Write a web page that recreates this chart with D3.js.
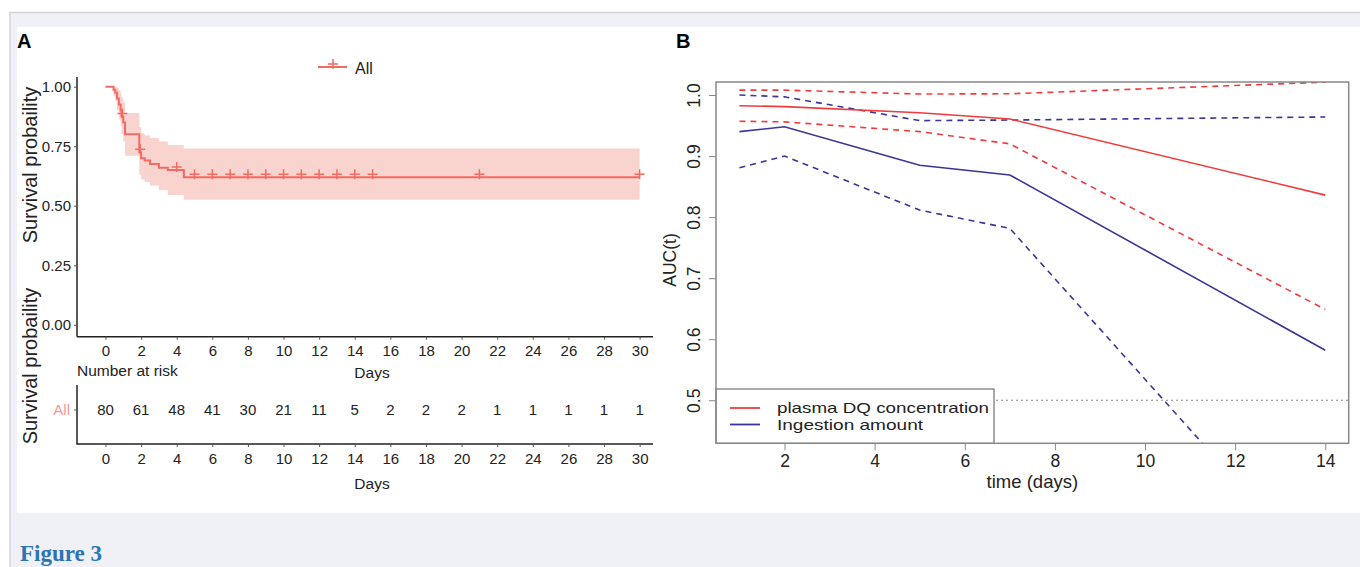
<!DOCTYPE html>
<html>
<head>
<meta charset="utf-8">
<script src="https://cdn.jsdelivr.net/npm/d3@7"></script>
<style>
  body { margin: 0; background: #fff; }
  text { font-family: "Liberation Sans", Arial, sans-serif; }
</style>
</head>
<body>
<div id="fig"></div>
<script>
// ---- panel A : Kaplan-Meier ----
const kmTime  = [0, 0.45, 0.55, 0.65, 0.75, 0.85, 0.9, 1.0, 1.1, 1.9, 2.0, 2.2, 2.5, 3.0, 3.5, 4.4];
const kmSurv  = [1, 0.9875, 0.975, 0.95, 0.925, 0.90, 0.875, 0.85, 0.80, 0.725, 0.70, 0.69, 0.675, 0.66, 0.65, 0.62];
const kmUpper = [1, 1, 1, 0.995, 0.985, 0.97, 0.955, 0.935, 0.89, 0.83, 0.805, 0.795, 0.785, 0.77, 0.755, 0.74];
const kmLower = [1, 0.96, 0.94, 0.90, 0.865, 0.835, 0.80, 0.77, 0.71, 0.63, 0.61, 0.60, 0.585, 0.565, 0.545, 0.525];
const censorTime = [0.95, 1.95, 4.0, 5, 6, 7, 8, 9, 10, 11, 12, 13, 14, 15, 21, 30];
const endTime = 30;
const dayTicks = [0, 2, 4, 6, 8, 10, 12, 14, 16, 18, 20, 22, 24, 26, 28, 30];
const riskCount = [80, 61, 48, 41, 30, 21, 11, 5, 2, 2, 2, 1, 1, 1, 1, 1];
const survTicks = [0, 0.25, 0.5, 0.75, 1];

// ---- panel B : time dependent AUC ----
const aucTime = [1, 2, 5, 7, 14];
const plasmaAuc   = [0.9825, 0.981, 0.971, 0.9607, 0.836];
const plasmaUpper = [1.008, 1.008, 1.0016, 1.002, 1.021];
const plasmaLower = [0.957, 0.956, 0.940, 0.920, 0.6487];
const ingestAuc   = [0.940, 0.948, 0.885, 0.869, 0.582];
const ingestUpper = [1.000, 0.997, 0.958, 0.959, 0.964];
const ingestLower = [0.881, 0.900, 0.8115, 0.7815, 0.205];
const aucTicksY = [0.5, 0.6, 0.7, 0.8, 0.9, 1.0];
const aucTicksX = [2, 4, 6, 8, 10, 12, 14];

const W = 1360, H = 567;
const kmColor = "#f26b63", bandColor = "#f9d4ce";
const red = "#f23a3a", blue = "#3c3597";
const ink = "#222";

const svg = d3.select("#fig").append("svg")
  .attr("width", W).attr("height", H);

// page frame
svg.append("rect").attr("x", 10).attr("y", 12).attr("width", W - 10).attr("height", H - 12)
  .attr("fill", "#eff1f7");
svg.append("path").attr("d", `M10,${H} V12.5 H${W}`)
  .attr("fill", "none").attr("stroke", "#d3d5db").attr("stroke-width", 1.5);
svg.append("rect").attr("x", 17).attr("y", 27).attr("width", W - 17).attr("height", 486)
  .attr("fill", "#fff");

svg.append("text").attr("x", 20).attr("y", 561)
  .style("font-family", "'Liberation Serif', 'DejaVu Serif', serif")
  .style("font-weight", "bold").style("font-size", "23px")
  .attr("fill", "#2e74b5").text("Figure 3");

// ================= Panel A =================
const A = svg.append("g");
A.append("text").attr("x", 17).attr("y", 48).style("font-weight", "bold")
  .style("font-size", "20px").text("A");

const x = d3.scaleLinear().domain([-1.6, 30.75]).range([77, 653]);
const y = d3.scaleLinear().domain([-0.05, 1.05]).range([336.7, 74.8]);

// confidence band + curve (step)
const stepT = kmTime.concat([endTime]);
const idx = d3.range(stepT.length);
const val = (arr, i) => arr[Math.min(i, arr.length - 1)];

A.append("path").datum(idx)
  .attr("d", d3.area().curve(d3.curveStepAfter)
    .x(i => x(stepT[i])).y0(i => y(val(kmLower, i))).y1(i => y(val(kmUpper, i))))
  .attr("fill", bandColor);

A.append("path").datum(idx)
  .attr("d", d3.line().curve(d3.curveStepAfter)
    .x(i => x(stepT[i])).y(i => y(val(kmSurv, i))))
  .attr("fill", "none").attr("stroke", kmColor).attr("stroke-width", 2);

const survAt = t => kmSurv[d3.bisectRight(kmTime, t) - 1];
A.selectAll("path.cens").data(censorTime).enter().append("path")
  .attr("class", "cens")
  .attr("d", "M-5,0H5M0,-5V5")
  .attr("transform", d => `translate(${x(d)},${y(survAt(d)) - 3})`)
  .attr("stroke", kmColor).attr("stroke-width", 1.5);

// axes
const tickFont = "15px";
const axA = A.append("g").attr("transform", "translate(0,336.7)")
  .call(d3.axisBottom(x).tickValues(dayTicks).tickSize(3).tickPadding(6));
const axAy = A.append("g").attr("transform", "translate(77,0)")
  .call(d3.axisLeft(y).tickValues(survTicks).tickFormat(d3.format(".2f")).tickSize(3).tickPadding(3));
[axA, axAy].forEach(g => {
  g.select(".domain").attr("stroke", ink).attr("stroke-width", 1.5);
  g.selectAll(".tick line").attr("stroke", "#555");
  g.selectAll(".tick text").style("font-size", tickFont).attr("fill", ink)
    .style("font-family", "'Liberation Sans', Arial, sans-serif");
});
axA.select(".domain").attr("d", "M77,0H653");
axAy.select(".domain").attr("d", "M0,77V336.7");

A.append("text").attr("transform", "translate(37,165) rotate(-90)")
  .attr("text-anchor", "middle").style("font-size", "20px").attr("fill", ink)
  .text("Survival probaility");
A.append("text").attr("transform", "translate(37,366) rotate(-90)")
  .attr("text-anchor", "middle").style("font-size", "20px").attr("fill", ink)
  .text("Survival probaility");

// legend
A.append("line").attr("x1", 318).attr("x2", 347).attr("y1", 67).attr("y2", 67)
  .attr("stroke", kmColor).attr("stroke-width", 2);
A.append("path").attr("d", "M-5,0H5M0,-5V5").attr("transform", "translate(333,64)")
  .attr("stroke", kmColor).attr("stroke-width", 1.5);
A.append("text").attr("x", 355).attr("y", 74).style("font-size", "16px").attr("fill", ink).text("All");

A.append("text").attr("x", 77).attr("y", 376).style("font-size", "15.5px").attr("fill", ink)
  .text("Number at risk");
A.append("text").attr("x", 372).attr("y", 378).attr("text-anchor", "middle")
  .style("font-size", "15.5px").attr("fill", ink).text("Days");

// risk table
const R = A.append("g");
R.append("path").attr("d", "M77,385V444H653").attr("fill", "none")
  .attr("stroke", ink).attr("stroke-width", 1.5);
R.append("line").attr("x1", 74).attr("x2", 77).attr("y1", 410).attr("y2", 410).attr("stroke", "#555");
R.append("text").attr("x", 70).attr("y", 415).attr("text-anchor", "end")
  .style("font-size", tickFont).attr("fill", "#f59a94").text("All");
R.selectAll("text.risk").data(riskCount).enter().append("text").attr("class", "risk")
  .attr("x", (d, i) => x(dayTicks[i])).attr("y", 415).attr("text-anchor", "middle")
  .style("font-size", tickFont).attr("fill", ink).text(d => d);
const axR = R.append("g").attr("transform", "translate(0,444)")
  .call(d3.axisBottom(x).tickValues(dayTicks).tickSize(3).tickPadding(6));
axR.select(".domain").remove();
axR.selectAll(".tick line").attr("stroke", "#555");
axR.selectAll(".tick text").style("font-size", tickFont).attr("fill", ink)
  .style("font-family", "'Liberation Sans', Arial, sans-serif");
R.append("text").attr("x", 372).attr("y", 489).attr("text-anchor", "middle")
  .style("font-size", "15.5px").attr("fill", ink).text("Days");

// ================= Panel B =================
const B = svg.append("g");
B.append("text").attr("x", 676).attr("y", 48).style("font-weight", "bold")
  .style("font-size", "20px").text("B");

const bx = d3.scaleLinear().domain([0.48, 14.52]).range([716, 1348.7]);
const by = d3.scaleLinear().domain([0.4295, 1.0213]).range([443.3, 82]);

B.append("clipPath").attr("id", "clipB").append("rect")
  .attr("x", 716).attr("y", 82).attr("width", 1348.7 - 716).attr("height", 443.3 - 82);

const plot = B.append("g").attr("clip-path", "url(#clipB)");
plot.append("line").attr("x1", 716).attr("x2", 1348.7).attr("y1", by(0.5)).attr("y2", by(0.5))
  .attr("stroke", "#888").attr("stroke-width", 1).attr("stroke-dasharray", "2,3");

const bLine = d3.line().x((d, i) => bx(aucTime[i])).y(d => by(d));
const series = [
  { v: plasmaUpper, c: red, dash: "6,5" },
  { v: plasmaLower, c: red, dash: "6,5" },
  { v: ingestUpper, c: blue, dash: "6,5" },
  { v: ingestLower, c: blue, dash: "6,5" },
  { v: plasmaAuc, c: red, dash: null },
  { v: ingestAuc, c: blue, dash: null }
];
plot.selectAll("path.s").data(series).enter().append("path").attr("class", "s")
  .attr("d", d => bLine(d.v)).attr("fill", "none")
  .attr("stroke", d => d.c).attr("stroke-width", 1.6)
  .attr("stroke-dasharray", d => d.dash);

// legend box
B.append("rect").attr("x", 716).attr("y", 389).attr("width", 994 - 716).attr("height", 443.3 - 389)
  .attr("fill", "#fff").attr("stroke", "#555").attr("stroke-width", 1);
B.append("line").attr("x1", 730).attr("x2", 760).attr("y1", 408).attr("y2", 408)
  .attr("stroke", red).attr("stroke-width", 1.8);
B.append("line").attr("x1", 730).attr("x2", 760).attr("y1", 424.5).attr("y2", 424.5)
  .attr("stroke", blue).attr("stroke-width", 1.8);
B.append("text").attr("x", 777).attr("y", 413).style("font-size", "15px").attr("fill", ink)
  .attr("textLength", 212).attr("lengthAdjust", "spacingAndGlyphs")
  .text("plasma DQ concentration");
B.append("text").attr("x", 777).attr("y", 430).style("font-size", "15px").attr("fill", ink)
  .attr("textLength", 146).attr("lengthAdjust", "spacingAndGlyphs")
  .text("Ingestion amount");

// box
B.append("rect").attr("x", 716).attr("y", 82).attr("width", 1348.7 - 716).attr("height", 443.3 - 82)
  .attr("fill", "none").attr("stroke", "#888").attr("stroke-width", 1.5);

// axes
const bFont = "17.5px";
const axBx = B.append("g").attr("transform", "translate(0,443.3)")
  .call(d3.axisBottom(bx).tickValues(aucTicksX).tickSize(7).tickPadding(4));
axBx.select(".domain").remove();
axBx.selectAll(".tick line").attr("stroke", "#888");
axBx.selectAll(".tick text").style("font-size", bFont).attr("fill", ink)
  .style("font-family", "'Liberation Sans', Arial, sans-serif");

const axBy = B.append("g").attr("transform", "translate(716,0)")
  .call(d3.axisLeft(by).tickValues(aucTicksY).tickFormat(d3.format(".1f")).tickSize(7));
axBy.select(".domain").remove();
axBy.selectAll(".tick line").attr("stroke", "#888");
axBy.selectAll(".tick text")
  .attr("x", null)
  .attr("text-anchor", "middle")
  .attr("transform", "translate(-22,0) rotate(-90)")
  .attr("dy", "0.35em")
  .style("font-size", bFont).attr("fill", ink)
  .style("font-family", "'Liberation Sans', Arial, sans-serif");

B.append("text").attr("x", bx(7.5)).attr("y", 488).attr("text-anchor", "middle")
  .style("font-size", "18.5px").attr("fill", ink).text("time (days)");
B.append("text").attr("transform", "translate(676,260) rotate(-90)")
  .attr("text-anchor", "middle").style("font-size", "17.5px").attr("fill", ink).text("AUC(t)");
</script>
</body>
</html>
